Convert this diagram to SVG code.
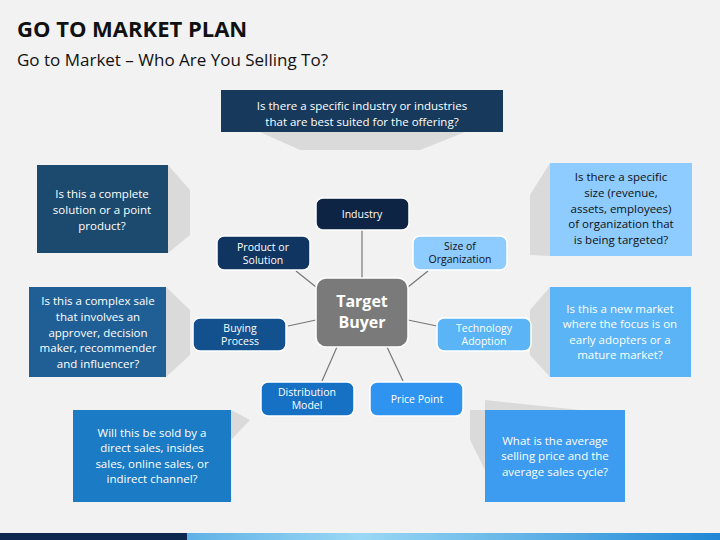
<svg xmlns="http://www.w3.org/2000/svg" width="720" height="540" viewBox="0 0 720 540">
<defs>
<style>
.t{font-family:"Open Sans","Liberation Sans",sans-serif;font-size:11.5px;text-anchor:middle;fill:#fff}
.n{font-family:"Open Sans","Liberation Sans",sans-serif;font-size:10.5px;text-anchor:middle;fill:#fff}
.d{fill:#111}
.sh{fill:#d0d0d0;opacity:0.7}
.c{stroke:#777;stroke-width:1.2;fill:none}
.node{stroke:#fff;stroke-width:1.5}
</style>
<linearGradient id="bar" x1="0" x2="1"><stop offset="0" stop-color="#1f87d6"/><stop offset="0.5" stop-color="#9ad8f5"/><stop offset="1" stop-color="#1f87d6"/></linearGradient>
</defs>
<rect width="720" height="540" fill="#f2f2f2"/>
<text x="17" y="37" font-family="'Open Sans','Liberation Sans',sans-serif" font-size="22" font-weight="bold" fill="#111">GO TO MARKET PLAN</text>
<text x="17" y="66" font-family="'Open Sans','Liberation Sans',sans-serif" font-size="17" fill="#111">Go to Market – Who Are You Selling To?</text>
<g id="shadows">
<polygon class="sh" points="260,132 465,132 420,150 300,150"/>
<polygon class="sh" points="168,165 190,190 190,235 168,253"/>
<polygon class="sh" points="166,287 190,310 190,355 166,377"/>
<polygon class="sh" points="150,410 231,410 250,420 231,440"/>
<polygon class="sh" points="550,163 530,195 530,255 550,256"/>
<polygon class="sh" points="550,287 530,310 530,355 550,377"/>
<polygon class="sh" points="485,410 470,410 470,440 485,470"/>
<polygon class="sh" points="485,410 580,410 485,400"/>
</g>
<g id="connectors">
<line class="c" x1="362" y1="230" x2="362" y2="278"/>
<line class="c" x1="296" y1="271" x2="316" y2="287"/>
<line class="c" x1="428" y1="271" x2="408" y2="287"/>
<line class="c" x1="288" y1="326" x2="316" y2="320"/>
<line class="c" x1="408" y1="320" x2="437" y2="326"/>
<line class="c" x1="322" y1="381" x2="337" y2="347"/>
<line class="c" x1="403" y1="381" x2="387" y2="347"/>
</g>
<g id="q-top"><rect x="221" y="90" width="282" height="42" fill="#173a5c"/><text class="t"><tspan x="362" y="110">Is there a specific industry or industries</tspan><tspan x="362" y="126">that are best suited for the offering?</tspan></text></g>
<g id="q-product"><rect x="37" y="165" width="131" height="88" fill="#1c4a6e"/><text class="t"><tspan x="102" y="198">Is this a complete</tspan><tspan x="102" y="214">solution or a point</tspan><tspan x="102" y="230">product?</tspan></text></g>
<g id="q-buying"><rect x="29" y="287" width="137" height="90" fill="#1f5f96"/><text class="t"><tspan x="98" y="305">Is this a complex sale</tspan><tspan x="98" y="321">that involves an</tspan><tspan x="98" y="337">approver, decision</tspan><tspan x="98" y="352">maker, recommender</tspan><tspan x="98" y="368">and influencer?</tspan></text></g>
<g id="q-dist"><rect x="73" y="410" width="158" height="92" fill="#1b7bc4"/><text class="t"><tspan x="152" y="437">Will this be sold by a</tspan><tspan x="152" y="452">direct sales, insides</tspan><tspan x="152" y="468">sales, online sales, or</tspan><tspan x="152" y="483">indirect channel?</tspan></text></g>
<g id="q-size"><rect x="550" y="163" width="142" height="93" fill="#8ecbff"/><text class="t d"><tspan x="621" y="181">Is there a specific</tspan><tspan x="621" y="197">size (revenue,</tspan><tspan x="621" y="213">assets, employees)</tspan><tspan x="621" y="228">of organization that</tspan><tspan x="621" y="244">is being targeted?</tspan></text></g>
<g id="q-tech"><rect x="550" y="287" width="141" height="90" fill="#5ab4f5"/><text class="t"><tspan x="620" y="313">Is this a new market</tspan><tspan x="620" y="328">where the focus is on</tspan><tspan x="620" y="344">early adopters or a</tspan><tspan x="620" y="359">mature market?</tspan></text></g>
<g id="q-price"><rect x="485" y="410" width="140" height="92" fill="#3d9bf0"/><text class="t"><tspan x="555" y="445">What is the average</tspan><tspan x="555" y="460">selling price and the</tspan><tspan x="555" y="476">average sales cycle?</tspan></text></g>
<g id="industry"><rect class="node" x="316" y="198" width="93" height="32" rx="7" fill="#0e2444"/><text class="n" x="362" y="218">Industry</text></g>
<g id="product"><rect class="node" x="217" y="236" width="93" height="34" rx="7" fill="#0f3560"/><text class="n"><tspan x="263" y="251">Product or</tspan><tspan x="263" y="264">Solution</tspan></text></g>
<g id="size"><rect class="node" x="413" y="236" width="94" height="34" rx="7" fill="#8ecbff"/><text class="n d"><tspan x="460" y="250">Size of</tspan><tspan x="460" y="263">Organization</tspan></text></g>
<g id="buying"><rect class="node" x="193" y="318" width="93" height="33" rx="7" fill="#12508e"/><text class="n"><tspan x="240" y="332">Buying</tspan><tspan x="240" y="345">Process</tspan></text></g>
<g id="tech"><rect class="node" x="437" y="318" width="94" height="33" rx="7" fill="#5ab4f5"/><text class="n"><tspan x="484" y="332">Technology</tspan><tspan x="484" y="345">Adoption</tspan></text></g>
<g id="distribution"><rect class="node" x="261" y="382" width="93" height="34" rx="7" fill="#1670c4"/><text class="n"><tspan x="307" y="396">Distribution</tspan><tspan x="307" y="409">Model</tspan></text></g>
<g id="price"><rect class="node" x="370" y="382" width="93" height="34" rx="7" fill="#2f93f0"/><text class="n" x="417" y="403">Price Point</text></g>
<g id="target"><rect class="node" x="316" y="278" width="92" height="69" rx="10" fill="#7a7a7a"/><text font-family="'Open Sans','Liberation Sans',sans-serif" font-size="16" font-weight="bold" fill="#fff" text-anchor="middle"><tspan x="362" y="307">Target</tspan><tspan x="362" y="328">Buyer</tspan></text></g>
<rect x="0" y="533" width="720" height="7" fill="url(#bar)"/>
<rect x="0" y="533" width="187" height="7" fill="#0f2850"/>
</svg>
